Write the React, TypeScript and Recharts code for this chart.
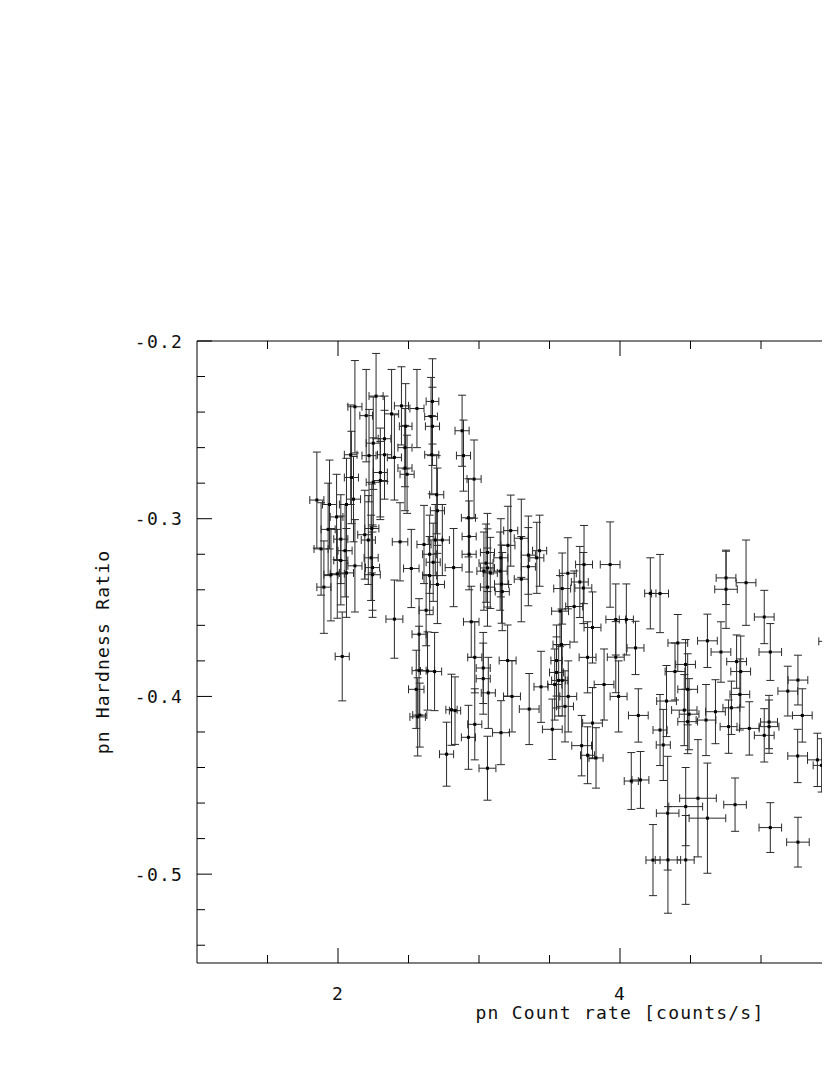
import React from 'react';
import { ScatterChart, Scatter, XAxis, YAxis, ErrorBar } from 'recharts';

// pn count rate (counts/s)
const countRate = [
  2.12, 2.27, 2.20, 2.38, 2.45, 2.56, 2.67, 2.66, 2.67, 2.48, 2.33, 2.25, 2.22, 2.09, 2.33, 2.40, 2.475, 2.475, 2.49, 2.30,
  2.25, 2.095, 2.665, 2.88, 2.89, 2.965, 2.70, 2.705, 1.85, 1.94, 1.99, 2.06, 2.11, 2.925, 2.30,
  1.93, 1.88, 2.02, 2.05, 2.02, 2.12, 1.995, 1.95, 2.06, 1.90, 2.19, 2.24, 2.215, 2.235, 2.245, 2.245, 2.44, 2.52, 2.61, 2.69,
  2.74, 2.65, 2.675, 2.65, 2.705, 2.82, 2.93, 2.93, 2.40, 2.625, 2.575, 2.03, 2.575, 2.635, 2.685, 2.555, 2.945,
  2.58, 2.565, 2.805, 2.83, 2.77, 2.925,
  3.06, 3.05, 3.06, 3.08, 3.035, 3.06, 3.155, 3.15, 3.16, 3.165, 3.205, 3.225, 3.30, 3.35, 3.35, 3.30, 3.43, 3.41,
  3.63, 3.59, 3.715, 3.74, 3.745, 3.93, 3.675, 3.575, 3.805, 3.97, 4.045, 4.11, 4.215, 3.585, 3.55, 3.55, 3.565, 3.59,
  3.44, 3.537, 3.203, 3.03, 3.03, 3.066, 3.234, 3.77, 3.97, 3.887, 3.99, 3.633,
  2.97, 3.156, 3.06, 3.356, 3.52, 3.61, 3.728, 3.77, 3.83, 3.805, 4.13, 4.08, 4.145,
  4.284, 4.752, 4.752, 4.894, 5.023, 5.47, 4.62, 4.41, 4.716, 5.066, 4.465, 4.39, 4.827, 4.856, 5.262, 5.19, 4.85, 4.48,
  4.33, 4.456, 4.49, 4.48, 4.284, 4.307, 4.61, 4.677, 4.79, 4.77, 4.917, 5.057, 5.057, 5.023, 5.293, 5.26, 5.40, 5.43,
  4.553, 4.466, 4.338, 4.62, 4.816, 5.066, 5.262, 5.51, 4.34, 4.466, 4.234, 2.97,
];

// pn hardness ratio
const hardness = [
  -0.237, -0.231, -0.242, -0.241, -0.2365, -0.238, -0.234, -0.2425, -0.248, -0.248, -0.255, -0.2575, -0.2645, -0.264, -0.264, -0.2655, -0.26, -0.2715, -0.275, -0.274,
  -0.2795, -0.2768, -0.264, -0.2505, -0.2645, -0.2777, -0.2865, -0.2955, -0.2895, -0.292, -0.299, -0.292, -0.289, -0.2995, -0.2785,
  -0.306, -0.317, -0.3115, -0.318, -0.3235, -0.3265, -0.331, -0.3315, -0.3305, -0.3385, -0.309, -0.3055, -0.312, -0.322, -0.3275, -0.3315, -0.313, -0.328, -0.3145, -0.312,
  -0.312, -0.32, -0.3245, -0.332, -0.337, -0.3275, -0.31, -0.32, -0.3565, -0.3515, -0.365, -0.3775, -0.3855, -0.3857, -0.386, -0.396, -0.358,
  -0.4105, -0.4115, -0.4075, -0.408, -0.4325, -0.423,
  -0.319, -0.325, -0.3277, -0.3305, -0.3295, -0.3385, -0.322, -0.3295, -0.3368, -0.341, -0.315, -0.3067, -0.311, -0.3205, -0.327, -0.334, -0.318, -0.322,
  -0.3307, -0.3393, -0.3356, -0.339, -0.3258, -0.3258, -0.3494, -0.352, -0.3612, -0.3567, -0.3567, -0.3727, -0.342, -0.3708, -0.3798, -0.3865, -0.391, -0.391,
  -0.3946, -0.3933, -0.3798, -0.384, -0.39, -0.398, -0.4, -0.378, -0.3779, -0.3933, -0.4, -0.4,
  -0.4157, -0.4204, -0.4404, -0.4071, -0.4185, -0.4056, -0.4277, -0.4331, -0.4346, -0.415, -0.4107, -0.4476, -0.447,
  -0.3421, -0.3333, -0.3397, -0.336, -0.3553, -0.369, -0.3687, -0.3699, -0.375, -0.375, -0.382, -0.386, -0.3804, -0.386, -0.3908, -0.397, -0.3989, -0.396,
  -0.4026, -0.4077, -0.41, -0.4142, -0.4189, -0.4273, -0.4133, -0.4086, -0.4064, -0.417, -0.418, -0.4144, -0.417, -0.4219, -0.4107, -0.4335, -0.4357, -0.4388,
  -0.4573, -0.462, -0.4657, -0.4685, -0.4609, -0.4738, -0.482, -0.48, -0.492, -0.492, -0.4921, -0.378,
];

// horizontal (count rate) error half-widths
const rateErr = [
  0.05, 0.05, 0.045, 0.05, 0.05, 0.05, 0.045, 0.045, 0.05, 0.045, 0.045, 0.05, 0.05, 0.045, 0.05, 0.05, 0.05, 0.05, 0.05, 0.05,
  0.05, 0.05, 0.05, 0.05, 0.05, 0.05, 0.05, 0.05, 0.05, 0.05, 0.045, 0.05, 0.05, 0.05, 0.05,
  0.05, 0.05, 0.05, 0.05, 0.05, 0.05, 0.05, 0.05, 0.05, 0.05, 0.05, 0.05, 0.05, 0.05, 0.05, 0.055, 0.055, 0.055, 0.05, 0.05,
  0.05, 0.05, 0.05, 0.05, 0.05, 0.06, 0.05, 0.05, 0.06, 0.05, 0.05, 0.05, 0.05, 0.05, 0.05, 0.055, 0.055,
  0.05, 0.055, 0.04, 0.04, 0.05, 0.05,
  0.05, 0.05, 0.05, 0.05, 0.05, 0.05, 0.05, 0.05, 0.05, 0.05, 0.05, 0.05, 0.05, 0.05, 0.05, 0.05, 0.05, 0.05,
  0.06, 0.06, 0.06, 0.06, 0.06, 0.07, 0.06, 0.06, 0.06, 0.07, 0.05, 0.06, 0.04, 0.06, 0.04, 0.05, 0.05, 0.04,
  0.05, 0.05, 0.06, 0.05, 0.05, 0.05, 0.06, 0.06, 0.06, 0.07, 0.06, 0.06,
  0.05, 0.06, 0.06, 0.07, 0.07, 0.06, 0.07, 0.05, 0.05, 0.07, 0.07, 0.05, 0.06,
  0.06, 0.07, 0.08, 0.07, 0.07, 0.06, 0.07, 0.07, 0.07, 0.08, 0.07, 0.07, 0.07, 0.07, 0.07, 0.07, 0.07, 0.07,
  0.07, 0.09, 0.07, 0.07, 0.05, 0.05, 0.07, 0.07, 0.06, 0.06, 0.07, 0.06, 0.07, 0.07, 0.07, 0.07, 0.07, 0.06,
  0.13, 0.12, 0.08, 0.13, 0.08, 0.08, 0.08, 0.07, 0.09, 0.06, 0.05, 0.05,
];

// vertical (hardness ratio) error half-widths
const hardnessErr = [
  0.026, 0.024, 0.026, 0.025, 0.022, 0.022, 0.024, 0.022, 0.022, 0.024, 0.024, 0.026, 0.026, 0.028, 0.025, 0.024, 0.022, 0.024, 0.022, 0.025,
  0.025, 0.026, 0.022, 0.02, 0.02, 0.022, 0.022, 0.024, 0.027, 0.025, 0.024, 0.026, 0.024, 0.022, 0.022,
  0.026, 0.026, 0.025, 0.026, 0.025, 0.026, 0.025, 0.026, 0.025, 0.026, 0.025, 0.025, 0.025, 0.024, 0.024, 0.024, 0.022, 0.022, 0.022, 0.02,
  0.02, 0.022, 0.022, 0.022, 0.022, 0.022, 0.02, 0.02, 0.022, 0.02, 0.02, 0.025, 0.025, 0.022, 0.022, 0.022, 0.02,
  0.018, 0.022, 0.02, 0.019, 0.018, 0.018,
  0.022, 0.022, 0.022, 0.02, 0.022, 0.022, 0.022, 0.022, 0.022, 0.022, 0.022, 0.02, 0.022, 0.022, 0.022, 0.024, 0.02, 0.02,
  0.02, 0.02, 0.02, 0.02, 0.022, 0.024, 0.02, 0.02, 0.02, 0.02, 0.02, 0.015, 0.02, 0.02, 0.02, 0.02, 0.02, 0.02,
  0.02, 0.02, 0.02, 0.02, 0.02, 0.02, 0.02, 0.02, 0.02, 0.02, 0.02, 0.02,
  0.02, 0.018, 0.018, 0.02, 0.017, 0.02, 0.017, 0.016, 0.017, 0.02, 0.015, 0.016, 0.016,
  0.022, 0.015, 0.022, 0.024, 0.015, 0.014, 0.015, 0.016, 0.017, 0.016, 0.014, 0.016, 0.015, 0.02, 0.014, 0.014, 0.02, 0.02,
  0.02, 0.02, 0.02, 0.018, 0.02, 0.02, 0.02, 0.018, 0.015, 0.015, 0.015, 0.015, 0.015, 0.015, 0.015, 0.015, 0.015, 0.015,
  0.033, 0.022, 0.032, 0.031, 0.015, 0.014, 0.014, 0.015, 0.03, 0.025, 0.02, 0.02,
];

const xTicks = [1.5, 2, 2.5, 3, 3.5, 4, 4.5, 5, 5.5, 6, 6.5];
const xMajorTicks = [2, 4, 6];
const xLabelTicks = [2, 4];
const yTicks = [-0.54, -0.52, -0.5, -0.48, -0.46, -0.44, -0.42, -0.4, -0.38, -0.36, -0.34, -0.32, -0.3, -0.28, -0.26, -0.24, -0.22, -0.2];
const yLabelTicks = [-0.5, -0.4, -0.3, -0.2];

const data = countRate.map((x, i) => ({ x, y: hardness[i], ex: rateErr[i], ey: hardnessErr[i] }));

const FONT = '"DejaVu Sans Mono", "Liberation Mono", monospace';
const TXT = '#111';
const near = (arr: number[], v: number) => arr.some((t) => Math.abs(t - v) < 1e-9);

const BottomTick = (props: any) => {
  const { x, y, payload } = props;
  const v = payload.value;
  const major = near(xMajorTicks, v);
  return (
    <g>
      <line x1={x} x2={x} y1={y} y2={y - (major ? 15 : 8)} stroke="#000" strokeWidth={1} />
      {near(xLabelTicks, v) && (
        <text x={x} y={y + 37} textAnchor="middle" fontFamily={FONT} fontSize={18} fill={TXT} letterSpacing={1.2}>
          {String(v)}
        </text>
      )}
    </g>
  );
};

const TopTick = (props: any) => {
  const { x, y, payload } = props;
  const major = near(xMajorTicks, payload.value);
  return <line x1={x} x2={x} y1={y} y2={y + (major ? 15 : 8)} stroke="#000" strokeWidth={1} />;
};

const LeftTick = (props: any) => {
  const { x, y, payload } = props;
  const v = payload.value;
  const major = near(yLabelTicks, v);
  return (
    <g>
      <line x1={x} x2={x + (major ? 15 : 8)} y1={y} y2={y} stroke="#000" strokeWidth={1} />
      {major && (
        <text x={x - 14} y={y + 6.5} textAnchor="end" fontFamily={FONT} fontSize={18} fill={TXT} letterSpacing={1.2}>
          {v.toFixed(1)}
        </text>
      )}
    </g>
  );
};

const RightTick = (props: any) => {
  const { x, y, payload } = props;
  const major = near(yLabelTicks, payload.value);
  return <line x1={x} x2={x - (major ? 15 : 8)} y1={y} y2={y} stroke="#000" strokeWidth={1} />;
};

const XLabel = (props: any) => {
  const vb = props.viewBox || { x: 189, y: 955, width: 846 };
  return (
    <text x={vb.x + vb.width / 2} y={vb.y + 56} textAnchor="middle" fontFamily={FONT} fontSize={18} fill={TXT} letterSpacing={1.2}>
      pn Count rate [counts/s]
    </text>
  );
};

const YLabel = (props: any) => {
  const vb = props.viewBox || { x: 89, y: 333, width: 100, height: 622 };
  const cx = 101;
  const cy = vb.y + vb.height / 2;
  return (
    <text
      x={cx}
      y={cy}
      transform={`rotate(-90 ${cx} ${cy})`}
      textAnchor="middle"
      fontFamily={FONT}
      fontSize={18}
      fill={TXT}
      letterSpacing={1.2}
    >
      pn Hardness Ratio
    </text>
  );
};

const Dot = (props: any) => {
  const { cx, cy } = props;
  if (cx == null || cy == null) return null;
  return <rect x={cx - 1.5} y={cy - 1.5} width={3} height={3} fill="#000" />;
};

export default function App() {
  return (
    <div style={{ width: 822, height: 1050, overflow: 'hidden', background: '#fff' }}>
      <ScatterChart
        width={1100}
        height={1050}
        margin={{ top: 303, right: 5, bottom: 35, left: 89 }}
      >
        <XAxis
          xAxisId={0}
          type="number"
          dataKey="x"
          domain={[1, 7]}
          ticks={xTicks}
          allowDataOverflow
          height={60}
          stroke="#000"
          tickLine={false}
          tickSize={0}
          tickMargin={0}
          tick={<BottomTick />}
          interval={0}
          label={<XLabel />}
        />
        <XAxis
          xAxisId="top"
          orientation="top"
          type="number"
          dataKey="x"
          domain={[1, 7]}
          ticks={xTicks}
          allowDataOverflow
          height={30}
          stroke="#000"
          tickLine={false}
          tickSize={0}
          tickMargin={0}
          tick={<TopTick />}
          interval={0}
        />
        <YAxis
          yAxisId={0}
          type="number"
          dataKey="y"
          domain={[-0.55, -0.2]}
          ticks={yTicks}
          allowDataOverflow
          width={100}
          stroke="#000"
          tickLine={false}
          tickSize={0}
          tickMargin={0}
          tick={<LeftTick />}
          interval={0}
          label={<YLabel />}
        />
        <YAxis
          yAxisId="right"
          orientation="right"
          type="number"
          dataKey="y"
          domain={[-0.55, -0.2]}
          ticks={yTicks}
          allowDataOverflow
          width={60}
          stroke="#000"
          tickLine={false}
          tickSize={0}
          tickMargin={0}
          tick={<RightTick />}
          interval={0}
        />
        <Scatter data={data} xAxisId={0} yAxisId={0} shape={<Dot />} isAnimationActive={false}>
          <ErrorBar dataKey="ex" direction="x" width={4} stroke="#2a2a2a" strokeWidth={1} isAnimationActive={false} />
          <ErrorBar dataKey="ey" direction="y" width={4} stroke="#2a2a2a" strokeWidth={1} isAnimationActive={false} />
        </Scatter>
      </ScatterChart>
    </div>
  );
}
